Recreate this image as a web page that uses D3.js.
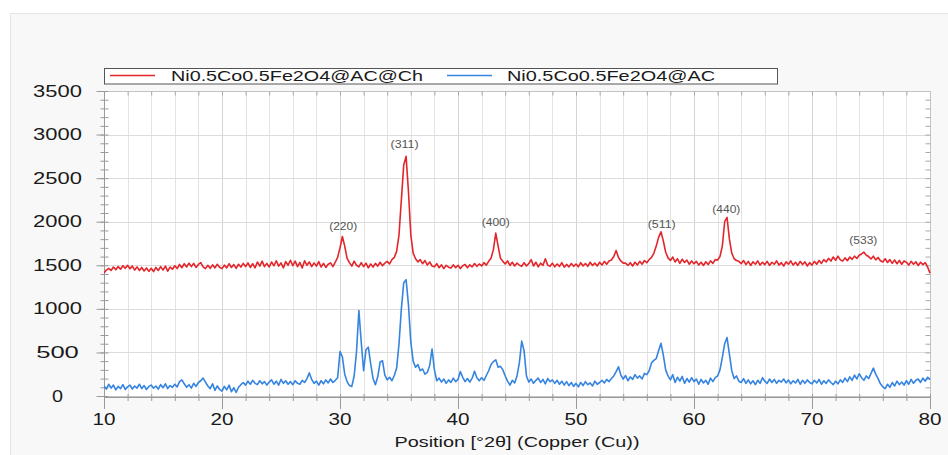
<!DOCTYPE html>
<html><head><meta charset="utf-8">
<script src="https://cdn.jsdelivr.net/npm/d3@7"></script>
<style>html,body{margin:0;padding:0;background:#fff;}svg{display:block;}</style>
</head><body>
<div id="chart"></div>
<script>
// ---- data ----
const scanStart = 10, scanStep = 0.2;   // 2θ scan grid, degrees
const seriesNames = ["Ni0.5Co0.5Fe2O4@AC@Ch", "Ni0.5Co0.5Fe2O4@AC"];
const redCounts = [
1410,1445,1465,1440,1480,1450,1485,1455,1495,1465,
1500,1460,1490,1445,1482,1440,1475,1435,1470,1430,
1465,1428,1475,1440,1485,1445,1490,1432,1480,1455,
1495,1462,1510,1472,1518,1480,1525,1485,1522,1475,
1510,1530,1482,1462,1500,1465,1505,1470,1512,1478,
1462,1502,1470,1518,1475,1508,1465,1512,1480,1522,
1485,1528,1475,1518,1470,1538,1490,1548,1485,1522,
1480,1538,1495,1552,1490,1528,1470,1542,1500,1558,
1495,1548,1485,1532,1470,1552,1500,1538,1485,1528,
1490,1542,1480,1522,1475,1512,1528,1485,1535,1590,
1700,1830,1720,1580,1530,1490,1548,1500,1482,1530,
1485,1525,1470,1515,1480,1522,1490,1535,1495,1525,
1545,1515,1565,1590,1660,1850,2250,2650,2750,2350,
1850,1640,1575,1540,1565,1518,1555,1502,1538,1492,
1482,1518,1472,1505,1462,1500,1478,1468,1505,1472,
1500,1462,1495,1510,1472,1505,1482,1520,1488,1515,
1492,1530,1502,1545,1580,1680,1870,1720,1580,1545,
1515,1550,1498,1535,1492,1525,1502,1488,1530,1492,
1520,1565,1492,1535,1482,1525,1498,1575,1502,1488,
1525,1482,1515,1488,1530,1478,1510,1482,1520,1488,
1515,1482,1530,1492,1520,1488,1535,1498,1525,1492,
1535,1502,1545,1512,1550,1560,1600,1670,1590,1550,
1525,1525,1498,1530,1492,1535,1502,1545,1512,1555,
1530,1565,1590,1640,1720,1820,1885,1780,1650,1585,
1555,1595,1538,1575,1522,1570,1532,1560,1512,1550,
1518,1545,1502,1535,1498,1540,1508,1550,1522,1565,
1560,1600,1720,2000,2050,1800,1640,1575,1555,1545,
1518,1555,1508,1545,1498,1540,1512,1550,1502,1535,
1508,1545,1498,1535,1512,1550,1502,1530,1492,1540,
1512,1550,1502,1535,1498,1545,1508,1540,1492,1530,
1502,1545,1512,1555,1522,1565,1538,1580,1548,1595,
1558,1605,1562,1550,1585,1552,1595,1568,1605,1578,
1615,1630,1650,1615,1600,1572,1605,1562,1590,1552,
1538,1575,1532,1565,1522,1560,1518,1555,1512,1550,
1535,1502,1545,1512,1540,1498,1535,1508,1530,1480,
1410];
const blueCounts = [
115,80,135,90,125,70,110,85,130,75,
105,125,80,115,90,135,85,120,75,110,
125,90,115,80,130,95,140,85,120,100,
135,105,165,185,140,100,130,90,145,110,
155,175,205,160,115,85,140,65,115,75,
55,110,70,125,50,95,40,100,130,155,
125,170,135,180,145,130,175,140,165,125,
160,185,135,170,125,190,145,175,135,165,
130,175,145,135,180,155,200,265,190,145,
170,125,175,140,185,150,195,155,180,210,
510,450,250,165,120,110,230,510,980,620,
290,530,560,370,200,130,220,390,405,240,
185,215,175,235,320,600,1000,1300,1335,1050,
620,400,330,360,290,310,250,270,350,540,
300,175,205,160,195,145,185,155,205,165,
190,280,215,165,200,160,205,285,210,175,
210,180,235,290,360,395,415,330,340,300,
230,170,125,180,150,230,380,630,520,230,
160,195,145,180,205,155,190,140,200,165,
185,145,180,135,170,125,165,120,155,110,
145,105,155,120,165,130,150,115,170,135,
155,180,150,190,165,200,230,280,335,240,
195,235,175,220,190,245,205,230,195,260,
245,290,380,410,430,520,605,470,300,230,
185,245,155,215,170,225,145,200,160,210,
165,195,135,190,150,180,135,205,165,210,
230,300,440,600,670,480,290,200,230,170,
155,200,145,185,140,175,130,180,145,210,
170,145,195,155,190,145,180,160,195,150,
185,140,175,150,190,135,180,145,185,155,
140,180,150,190,135,175,145,185,155,130,
170,140,185,155,205,165,220,180,240,195,
255,210,180,230,200,260,320,250,200,140,
105,85,135,100,155,115,170,130,160,125,
175,135,190,145,180,195,155,205,170,215,
190];
const xTickLabels = ["10","20","30","40","50","60","70","80"];
const yTickLabels = ["0","500","1000","1500","2000","2500","3000","3500"];
const peakLabels = ["(220)","(311)","(400)","(511)","(440)","(533)"];
const peakPos2Theta = [30.27, 35.47, 43.2, 57.26, 62.74, 74.35];
const peakLabelCounts = [1905, 2846, 1951, 1928, 2100, 1744];
const xTitle = "Position [°2θ] (Copper (Cu))";

// ---- layout ----
const W = 948, H = 455;
const L = 104, R = 930, T = 91, B = 397;
const red = "#e3262b", blue = "#3484e0";
const font = "'Liberation Sans', Arial, sans-serif";

const svg = d3.select("#chart").append("svg").attr("width", W).attr("height", H);
svg.append("rect").attr("x", 10.5).attr("y", 13.5).attr("width", W).attr("height", H)
  .attr("fill", "#f8f8f8").attr("stroke", "#e4e4e4");

const x = d3.scaleLinear().domain([10, 80]).range([L, R]);
const y = d3.scaleLinear().domain([0, 3500]).range([B - 1, T]);

svg.append("rect").attr("x", L).attr("y", T).attr("width", R - L).attr("height", B - T).attr("fill", "#fff");

// grid
const g = svg.append("g");
g.selectAll("line.vg").data(d3.range(12, 80, 2)).join("line")
  .attr("x1", d => Math.round(x(d)) + 0.5).attr("x2", d => Math.round(x(d)) + 0.5)
  .attr("y1", T).attr("y2", B)
  .attr("stroke", d => d % 10 === 0 ? "#d4d4d4" : "#e3e3e3").attr("stroke-width", 1);
g.selectAll("line.hg").data(d3.range(500, 3500, 500)).join("line")
  .attr("x1", L).attr("x2", R)
  .attr("y1", d => Math.round(y(d)) + 0.5).attr("y2", d => Math.round(y(d)) + 0.5)
  .attr("stroke", "#dcdcdc");

// frame
svg.append("rect").attr("x", L + 0.5).attr("y", T + 0.5).attr("width", R - L).attr("height", B - T - 1)
  .attr("fill", "none").attr("stroke", "#c4c4c4");

// axes with d3
const ax1 = svg.append("g").attr("transform", `translate(${L + 0.5},0)`)
  .call(d3.axisLeft(y).tickValues(d3.range(0, 3501, 100)).tickSize(4).tickFormat(""));
const ax2 = svg.append("g").attr("transform", `translate(${L + 0.5},0)`)
  .call(d3.axisLeft(y).tickValues(d3.range(0, 3501, 500)).tickSize(8).tickFormat(""));
const ax1b = svg.append("g").attr("transform", `translate(${L + 4.5},0)`)
  .call(d3.axisLeft(y).tickValues(d3.range(0, 3501, 100)).tickSize(4).tickFormat(""));
[ax1, ax2, ax1b].forEach(a => { a.select(".domain").remove(); a.selectAll("line").attr("stroke", "#9a9a9a"); });
const axR = svg.append("g").attr("transform", `translate(${R + 0.5},0)`)
  .call(d3.axisLeft(y).tickValues(d3.range(100, 3500, 100)).tickSize(5).tickFormat(""));
axR.select(".domain").remove(); axR.selectAll("line").attr("stroke", "#a8a8a8");

const xMinor = svg.append("g").attr("transform", `translate(0,${B - 3})`)
  .call(d3.axisBottom(x).tickValues(d3.range(10, 81, 2)).tickSize(7).tickFormat(""));
const xMajor = svg.append("g").attr("transform", `translate(0,${B})`)
  .call(d3.axisBottom(x).tickValues(d3.range(10, 81, 10)).tickSize(12).tickFormat(""));
[xMinor, xMajor].forEach(a => { a.select(".domain").remove(); a.selectAll("line").attr("stroke", "#9a9a9a"); });
const xTop = svg.append("g").attr("transform", `translate(0,${T + 0.5})`)
  .call(d3.axisBottom(x).tickValues(d3.range(12, 80, 2)).tickSize(4).tickFormat(""));
xTop.select(".domain").remove(); xTop.selectAll("line").attr("stroke", "#a8a8a8");

svg.append("line").attr("x1", L + 0.5).attr("x2", L + 0.5).attr("y1", T).attr("y2", B + 1).attr("stroke", "#9a9a9a");
svg.append("line").attr("x1", L).attr("x2", R + 1).attr("y1", B + 0.5).attr("y2", B + 0.5).attr("stroke", "#9a9a9a");

// tick labels
svg.selectAll("text.yl").data(yTickLabels).join("text")
  .attr("x", 57.5).attr("y", d => y(+d) + 5.5)
  .attr("text-anchor", "middle").attr("font-family", font).attr("font-size", 16)
  .attr("fill", "#1a1a1a")
  .attr("textLength", d => d.length === 1 ? 11 : d.length * 12.2 + (d.length === 3 ? 6 : 0))
  .attr("lengthAdjust", "spacingAndGlyphs").text(d => d);
svg.selectAll("text.xl").data(xTickLabels).join("text")
  .attr("x", d => x(+d)).attr("y", 424.5)
  .attr("text-anchor", "middle").attr("font-family", font).attr("font-size", 16)
  .attr("fill", "#1a1a1a").attr("textLength", 23).attr("lengthAdjust", "spacingAndGlyphs").text(d => d);
svg.append("text").attr("x", (L + R) / 2).attr("y", 447)
  .attr("text-anchor", "middle").attr("font-family", font).attr("font-size", 15)
  .attr("fill", "#1a1a1a").attr("textLength", 245).attr("lengthAdjust", "spacingAndGlyphs").text(xTitle);

// series
if (redCounts.length !== 351 || blueCounts.length !== 351) throw new Error("length " + redCounts.length + " " + blueCounts.length);
const line = d3.line().x((d, i) => x(scanStart + i * scanStep)).y(d => y(d));
svg.append("clipPath").attr("id", "pc").append("rect")
  .attr("x", L).attr("y", T).attr("width", R - L + 1).attr("height", B - T);
svg.append("path").datum(blueCounts).attr("d", line).attr("fill", "none")
  .attr("stroke", blue).attr("stroke-width", 1.6).attr("stroke-linejoin", "round").attr("clip-path", "url(#pc)");
svg.append("path").datum(redCounts).attr("d", line).attr("fill", "none")
  .attr("stroke", red).attr("stroke-width", 1.6).attr("stroke-linejoin", "round").attr("clip-path", "url(#pc)");

// peak labels
svg.selectAll("text.pk").data(peakLabels).join("text")
  .attr("x", (d, i) => x(peakPos2Theta[i])).attr("y", (d, i) => y(peakLabelCounts[i]))
  .attr("text-anchor", "middle").attr("font-family", font).attr("font-size", 10)
  .attr("fill", "#555").attr("textLength", 28).attr("lengthAdjust", "spacingAndGlyphs").text(d => d);

// legend
const lg = svg.append("g");
lg.append("rect").attr("x", 104.5).attr("y", 68.5).attr("width", 673).attr("height", 15.5)
  .attr("fill", "#fff").attr("stroke", "#555");
const legendColors = [red, blue];
const legendLineX = [110, 447], legendTextX = [171, 507], legendTextW = [252, 208];
seriesNames.forEach((name, i) => {
  lg.append("line").attr("x1", legendLineX[i]).attr("x2", legendLineX[i] + 45)
    .attr("y1", 75.5).attr("y2", 75.5).attr("stroke", legendColors[i]).attr("stroke-width", 1.3);
  lg.append("text").attr("x", legendTextX[i]).attr("y", 81)
    .attr("font-family", font).attr("font-size", 14.5).attr("fill", "#1a1a1a")
    .attr("textLength", legendTextW[i]).attr("lengthAdjust", "spacingAndGlyphs").text(name);
});
</script>
</body></html>
